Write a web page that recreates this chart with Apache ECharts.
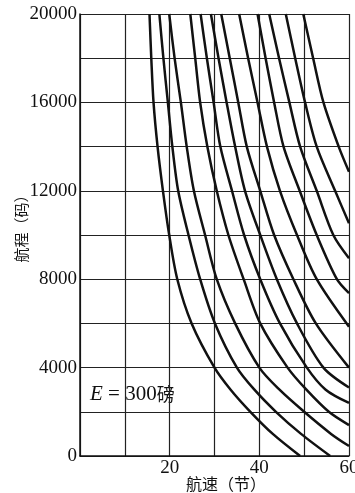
<!DOCTYPE html>
<html>
<head>
<meta charset="utf-8">
<script src="https://cdn.jsdelivr.net/npm/echarts@6/dist/echarts.min.js"></script>
<style>
html,body{margin:0;padding:0;background:#fff;}
#chart{width:355px;height:493px;}
</style>
</head>
<body>
<div id="chart"></div>
<script>
// x: speed (knots), y: range (yards)
const xLabels = [20, 40, 60];
const yLabels = [0, 4000, 8000, 12000, 16000, 20000];
const xName = '航速（节）';
const yName = '航程（码）';

const curve1  = [[15.5,20000],[15.9,18000],[16.4,16000],[17.3,14000],[18.5,12000],[19.9,10000],[21.7,8000],[24.9,6000],[30.0,4000],[33.6,3000],[38.0,2000],[43.0,1000],[49.1,0]];
const curve2  = [[17.7,20000],[18.6,18000],[19.6,16000],[20.6,14000],[21.9,12000],[24.2,10000],[26.8,8000],[30.1,6000],[35.0,4000],[38.9,3000],[43.7,2000],[49.3,1000],[55.8,0]];
const curve3  = [[19.9,20000],[21.1,18000],[22.5,16000],[23.8,14000],[25.4,12000],[27.9,10000],[30.5,8000],[34.6,6000],[40.0,4000],[44.5,3000],[50.0,2000],[56.0,1000],[60,450]];
const curve4  = [[24.6,20000],[25.7,18000],[26.8,16000],[28.4,14000],[30.5,12000],[33.1,10000],[36.5,8000],[40.2,6000],[46.3,4000],[50.5,3000],[55.5,2000],[60,1400]];
const curve5  = [[26.9,20000],[28.3,18000],[29.8,16000],[31.3,14000],[33.9,12000],[36.6,10000],[40.2,8000],[44.6,6000],[50.6,4000],[54.8,3000],[60,2400]];
const curve6  = [[29.2,20000],[30.9,18000],[32.7,16000],[34.6,14000],[36.8,12000],[40.2,10000],[43.9,8000],[48.4,6000],[54.3,4000],[60,3100]];
const curve7  = [[31.5,20000],[33.4,18000],[35.3,16000],[37.2,14000],[40.2,12000],[43.3,10000],[47.6,8000],[52.6,6000],[60,4000]];
const curve8  = [[35.5,20000],[37.5,18000],[39.6,16000],[41.7,14000],[44.6,12000],[48.4,10000],[52.8,8000],[60,5850]];
const curve9  = [[39.6,20000],[41.4,18000],[43.3,16000],[45.4,14000],[49.0,12000],[52.8,10000],[57.3,8000],[60,7370]];
const curve10 = [[42.2,20000],[44.4,18000],[46.7,16000],[49.1,14000],[52.8,12000],[56.5,10000],[60,8950]];
const curve11 = [[45.9,20000],[48.0,18000],[50.2,16000],[52.8,14000],[56.9,12000],[60,10530]];
const curve12 = [[49.8,20000],[52.0,18000],[54.3,16000],[57.7,14000],[60,12860]];

const curves = [curve1,curve2,curve3,curve4,curve5,curve6,curve7,curve8,curve9,curve10,curve11,curve12];

const chart = echarts.init(document.getElementById('chart'));
const serif = '"Liberation Serif","DejaVu Serif",serif';
const cjk = '"Noto Sans CJK SC","Noto Sans CJK JP",sans-serif';

chart.setOption({
  animation: false,
  backgroundColor: '#fff',
  grid: {left: 80, right: 6, top: 14, bottom: 37, containLabel: false, outerBoundsMode: 'none'},
  xAxis: {
    type: 'value', min: 0, max: 60, interval: 10,
    axisLine: {show: true, lineStyle: {color: '#111', width: 1.5}},
    axisTick: {show: false},
    splitLine: {show: true, lineStyle: {color: '#222', width: 1.2}},
    axisLabel: {
      margin: 3, color: '#111', fontFamily: serif, fontSize: 19,
      formatter: v => xLabels.indexOf(v) >= 0 ? String(v) : ''
    },
    name: xName, nameLocation: 'middle', nameGap: 20, nameMoveOverlap: false,
    nameTextStyle: {fontFamily: cjk, fontSize: 16, color: '#111', padding: [0, 0, 0, 23]}
  },
  yAxis: {
    type: 'value', min: 0, max: 20000, interval: 2000,
    axisLine: {show: true, lineStyle: {color: '#111', width: 1.5}},
    axisTick: {show: false},
    splitLine: {show: true, lineStyle: {color: '#222', width: 1.2}},
    axisLabel: {
      margin: 3, color: '#111', fontFamily: serif, fontSize: 19,
      formatter: v => yLabels.indexOf(v) >= 0 ? String(v) : ''
    },
    name: yName, nameLocation: 'middle', nameRotate: 90, nameGap: 51, nameMoveOverlap: false,
    nameTextStyle: {fontFamily: cjk, fontSize: 15, color: '#111', padding: [0, 0, 0, 20]}
  },
  graphic: [{
    type: 'text', left: 90, top: 384,
    style: {
      text: '{e|E}{t| = 300}{c|磅}',
      rich: {
        e: {fontFamily: serif, fontStyle: 'italic', fontSize: 21, fill: '#111'},
        t: {fontFamily: serif, fontSize: 21, fill: '#111'},
        c: {fontFamily: cjk, fontSize: 18, fill: '#111'}
      }
    }
  }],
  series: curves.map(c => ({
    type: 'line', data: c, showSymbol: false, smooth: 0.3,
    lineStyle: {color: '#111', width: 2.5}, clip: true
  }))
});
</script>
</body>
</html>
